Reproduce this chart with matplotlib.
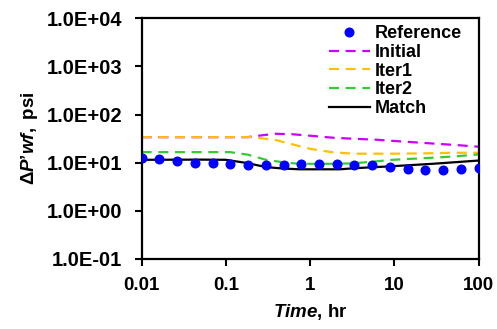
import matplotlib
matplotlib.use("Agg")
import matplotlib.pyplot as plt
from matplotlib.ticker import FixedLocator, FuncFormatter, NullLocator

plt.rcParams["font.family"] = ["Liberation Sans", "DejaVu Sans"]
plt.rcParams["font.weight"] = "bold"
plt.rcParams["mathtext.fontset"] = "custom"
plt.rcParams["mathtext.it"] = "Liberation Sans:italic:bold"
plt.rcParams["mathtext.rm"] = "Liberation Sans:bold"
plt.rcParams["mathtext.bf"] = "Liberation Sans:bold"

# Measured derivative (reference) points
ref_time = [0.01, 0.0162, 0.0264, 0.0428, 0.0695, 0.113, 0.183, 0.298, 0.483,
            0.785, 1.27, 2.07, 3.36, 5.46, 8.86, 14.4, 23.4, 37.9, 61.6, 100]
ref_dp = [12.7, 12.1, 10.8, 9.9, 9.7, 9.3, 8.9, 9.1, 9.1, 9.2,
          9.2, 9.2, 9.0, 8.8, 8.0, 7.4, 7.1, 7.1, 7.5, 7.7]

# Model derivative curves
init_time = [0.01, 0.1, 0.18, 0.38, 0.62, 0.9, 1.85, 3.2, 6.1, 10.6, 18.3, 31.2, 56.4, 100]
init_dp = [34.0, 34.0, 34.0, 40.0, 39.0, 37.0, 33.1, 31.5, 30.1, 28.1, 26.4, 24.8, 23.2, 21.5]

iter1_time = [0.01, 0.1, 0.2, 0.38, 0.62, 0.99, 1.8, 3.2, 6.0, 10.0, 20.0, 50.0, 100]
iter1_dp = [34.0, 34.0, 34.0, 30.0, 24.0, 19.5, 16.6, 15.4, 15.4, 15.4, 15.6, 16.1, 16.1]

iter2_time = [0.01, 0.05, 0.112, 0.182, 0.30, 0.52, 0.75, 1.85, 3.2, 5.5, 9.5, 16.5, 28.5, 51.5, 100]
iter2_dp = [16.6, 16.6, 16.6, 14.7, 11.5, 10.0, 9.5, 9.5, 9.7, 10.5, 11.5, 12.1, 12.7, 13.5, 14.9]

match_time = [0.01, 0.05, 0.1, 0.182, 0.30, 0.47, 0.75, 1.3, 2.25, 3.4, 8.8, 28.5, 100]
match_dp = [11.5, 11.6, 11.5, 9.8, 8.1, 7.6, 7.3, 7.3, 7.3, 7.7, 8.4, 9.5, 11.1]

x_ticks = [0.01, 0.1, 1, 10, 100]
x_tick_labels = ["0.01", "0.1", "1", "10", "100"]
y_ticks = [1e-1, 1e0, 1e1, 1e2, 1e3, 1e4]

fig = plt.figure(figsize=(4.97, 3.29), dpi=100)
ax = fig.add_axes([0.285, 0.2128, 0.678, 0.7315])

dash = (4.5, 3.0)
ax.plot(ref_time, ref_dp, linestyle="none", marker="o", markersize=6.2,
        color="#0000FF", label="Reference", zorder=5)
ax.plot(init_time, init_dp, color="#CC00FF", lw=1.6, dashes=dash, label="Initial")
ax.plot(iter1_time, iter1_dp, color="#FFC000", lw=1.6, dashes=dash, label="Iter1")
ax.plot(iter2_time, iter2_dp, color="#33CC33", lw=1.6, dashes=dash, label="Iter2")
ax.plot(match_time, match_dp, color="black", lw=1.6, label="Match", zorder=4)

ax.set_xscale("log")
ax.set_yscale("log")
ax.set_xlim(0.01, 100)
ax.set_ylim(1e-1, 1e4)

ax.xaxis.set_major_locator(FixedLocator(x_ticks))
ax.xaxis.set_major_formatter(FuncFormatter(
    lambda v, p: x_tick_labels[x_ticks.index(v)] if v in x_ticks else ""))
ax.xaxis.set_minor_locator(NullLocator())
ax.yaxis.set_major_locator(FixedLocator(y_ticks))
ax.yaxis.set_major_formatter(FuncFormatter(lambda v, p: "{:.1E}".format(v)))
ax.yaxis.set_minor_locator(NullLocator())

ax.tick_params(axis="both", which="major", direction="out", length=5, width=1.5)
ax.tick_params(axis="x", labelsize=13.5, pad=8)
ax.tick_params(axis="y", labelsize=14.5, pad=9)
for lab in ax.get_xticklabels() + ax.get_yticklabels():
    lab.set_fontweight("bold")
for sp in ax.spines.values():
    sp.set_linewidth(1.6)

ax.set_xlabel(r"$\mathit{Time}$, hr", fontsize=13.5, fontweight="bold", labelpad=6)
ax.set_ylabel("$\\mathit{\u0394P\u2019wf,}$ psi", fontsize=13.5, fontweight="bold", labelpad=5)

leg = ax.legend(loc="upper right", bbox_to_anchor=(0.95, 0.972), frameon=False,
                fontsize=13, handlelength=2.3, handletextpad=0.25,
                labelspacing=0.1, borderpad=0.0, borderaxespad=0.0)
for t in leg.get_texts():
    t.set_fontweight("bold")

fig.savefig("out.png", dpi=100)
